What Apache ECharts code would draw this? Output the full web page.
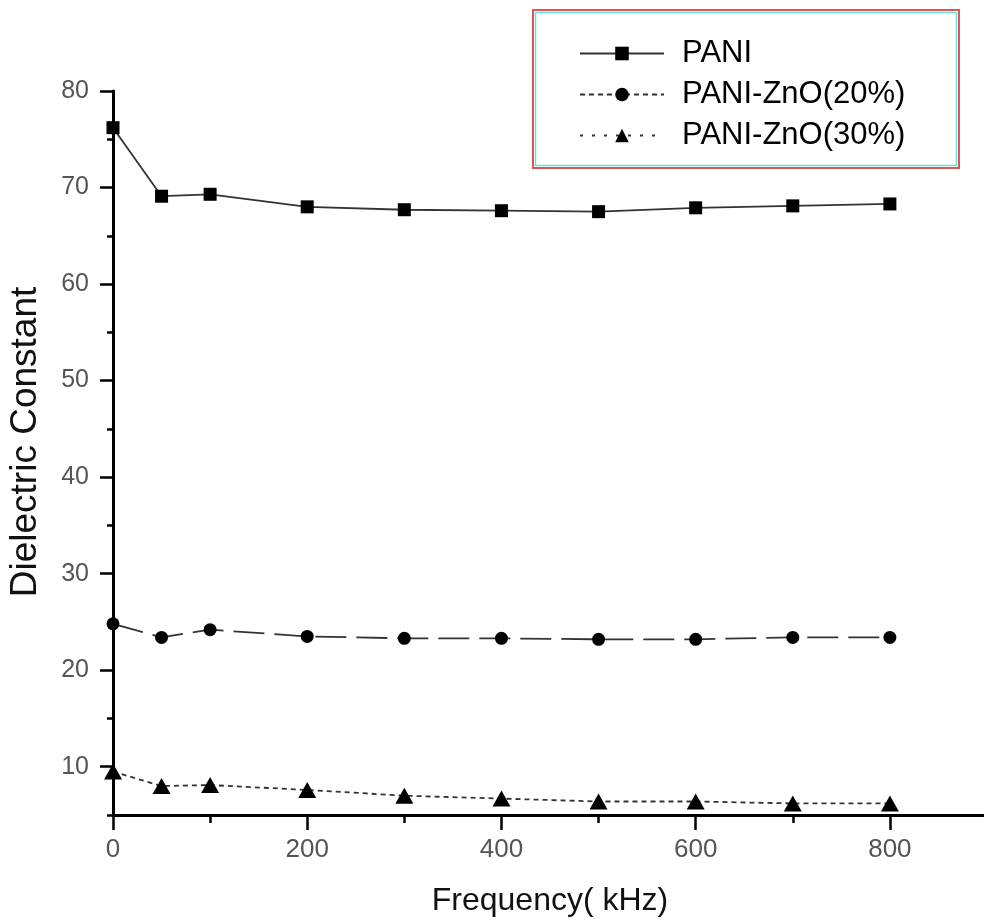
<!DOCTYPE html>
<html>
<head>
<meta charset="utf-8">
<script src="https://cdn.jsdelivr.net/npm/echarts@6/dist/echarts.min.js"></script>
<style>
  html, body { margin: 0; padding: 0; background: #fff; }
  #chart { width: 984px; height: 924px; }
</style>
</head>
<body>
<div id="chart"></div>
<script>
// frequency in kHz
const freq = [0, 50, 100, 200, 300, 400, 500, 600, 700, 800];
const pani = [76.2, 69.1, 69.3, 68.0, 67.7, 67.6, 67.5, 67.9, 68.1, 68.3];
const pani20 = [24.8, 23.4, 24.2, 23.5, 23.3, 23.3, 23.2, 23.2, 23.4, 23.4];
const pani30 = [9.5, 8.0, 8.1, 7.6, 7.0, 6.7, 6.4, 6.4, 6.2, 6.2];

const xMajor = [0, 200, 400, 600, 800];
const xMinor = [100, 300, 500, 700, 900];
const yMajor = [10, 20, 30, 40, 50, 60, 70, 80];
const yMinor = [5, 15, 25, 35, 45, 55, 65, 75];

const font = "'Liberation Sans', Arial, sans-serif";
const pairs = (ys) => freq.map((f, i) => [f, ys[i]]);

const chart = echarts.init(document.getElementById("chart"));

const baseX = {
  type: "value",
  min: 0,
  max: 900,
  position: "bottom",
  splitLine: { show: false },
};
const baseY = {
  type: "value",
  min: 5,
  max: 80,
  position: "left",
  splitLine: { show: false },
};

chart.setOption({
  backgroundColor: "#fff",
  animation: false,
  grid: { left: 113, right: -3, top: 91, bottom: 109, outerBoundsMode: "none", containLabel: false },
  xAxis: [
    {
      ...baseX,
      name: "Frequency( kHz)",
      nameLocation: "middle",
      nameGap: 70,
      nameTextStyle: { fontFamily: font, fontSize: 32, color: "#111" },
      axisLine: { onZero: false, lineStyle: { color: "#000", width: 3 } },
      axisTick: { customValues: xMajor, length: 15, lineStyle: { color: "#000", width: 2.5 } },
      axisLabel: { customValues: xMajor, fontFamily: font, fontSize: 26, color: "#555", margin: 22 },
    },
    {
      ...baseX,
      axisLine: { show: false, onZero: false },
      axisTick: { customValues: xMinor, length: 8, lineStyle: { color: "#000", width: 2.5 } },
      axisLabel: { show: false },
    },
  ],
  yAxis: [
    {
      ...baseY,
      name: "Dielectric Constant",
      nameLocation: "middle",
      nameGap: 69,
      nameTextStyle: { fontFamily: font, fontSize: 37, color: "#111", padding: [0, 0, 0, 22] },
      axisLine: { onZero: false, lineStyle: { color: "#000", width: 3 } },
      axisTick: { customValues: yMajor, length: 13, lineStyle: { color: "#000", width: 2.5 } },
      axisLabel: { customValues: yMajor, fontFamily: font, fontSize: 25, color: "#555", margin: 24 },
    },
    {
      ...baseY,
      axisLine: { show: false, onZero: false },
      axisTick: { customValues: yMinor, length: 6, lineStyle: { color: "#000", width: 2.5 } },
      axisLabel: { show: false },
    },
  ],
  legend: {
    orient: "vertical",
    left: 574,
    top: 33,
    itemWidth: 84,
    itemHeight: 17,
    itemGap: 10,
    textStyle: { fontFamily: font, fontSize: 31, color: "#000", padding: [0, 0, 0, 13] },
    data: [
      { name: "PANI" },
      { name: "PANI-ZnO(20%)", lineStyle: { type: [5, 4] } },
      { name: "PANI-ZnO(30%)", lineStyle: { type: [3, 9] } },
    ],
  },
  graphic: [
    {
      type: "rect",
      shape: { x: 533, y: 10, width: 426, height: 158 },
      style: { fill: "#fff", stroke: "#e05555", lineWidth: 2 },
      z: -1,
    },
    {
      type: "rect",
      shape: { x: 535.5, y: 12.5, width: 421, height: 153 },
      style: { fill: "none", stroke: "#66e0e0", lineWidth: 1.5 },
      z: -1,
    },
  ],
  series: [
    {
      name: "PANI",
      type: "line",
      data: pairs(pani),
      symbol: "rect",
      symbolSize: 13,
      lineStyle: { color: "#333", width: 1.8 },
      itemStyle: { color: "#000" },
    },
    {
      name: "PANI-ZnO(20%)",
      type: "line",
      data: pairs(pani20),
      symbol: "circle",
      symbolSize: 13,
      lineStyle: { color: "#333", width: 1.8, type: [31, 10] },
      itemStyle: { color: "#000" },
    },
    {
      name: "PANI-ZnO(30%)",
      type: "line",
      data: pairs(pani30),
      symbol: "triangle",
      symbolSize: [18, 16],
      lineStyle: { color: "#333", width: 1.8, type: [5, 4] },
      itemStyle: { color: "#000" },
    },
  ],
});
</script>
</body>
</html>
